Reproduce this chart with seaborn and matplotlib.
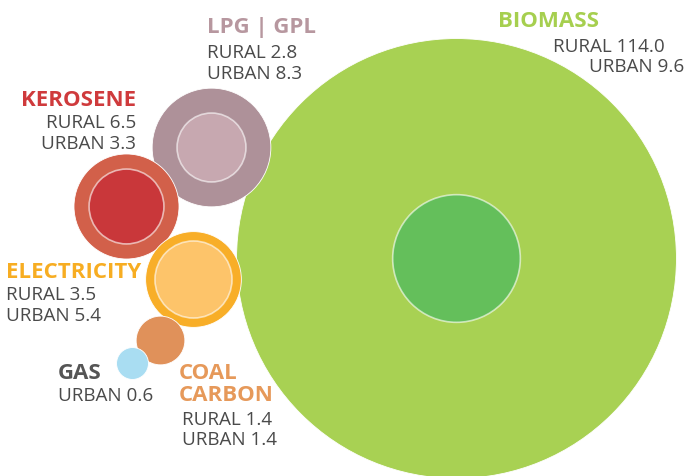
import numpy as np
import pandas as pd
import seaborn as sns
import matplotlib
matplotlib.use("Agg")
import matplotlib.pyplot as plt

# ---------------- data ----------------
fuels = ["BIOMASS", "LPG | GPL", "KEROSENE", "ELECTRICITY", "COAL\nCARBON", "GAS"]
rural = [114.0, 2.8, 6.5, 3.5, 1.4, np.nan]
urban = [9.6, 8.3, 3.3, 5.4, 1.4, 0.6]

# ---------------- styles / layout ----------------
title_colors = ["#a6cf4f", "#b7979f", "#cf3a3c", "#f7ad22", "#e6995a", "#555555"]
rural_colors = ["#a8d153", "#c7a8b0", "#d2604a", "#fdc46a", "#e0915a", "#a9ddf2"]
urban_colors = ["#64bf5b", "#ae9199", "#c9373a", "#f8ae28", "#e0915a", "#a9ddf2"]
centers = [(455.5, 257.5), (210.5, 146.5), (126, 206), (192.5, 279), (160, 340), (132, 362.5)]
# label anchor (x, ha) and baselines of lines
label_x = [None, 207, 136, 6, 179, 58]
label_ha = ["left", "left", "right", "left", "left", "left"]
title_base = [[27], [33], [106], [278], [379, 401], [379]]
line_base = [[52, 72], [58, 79], [128, 149], [300, 321], [425, 445], [401]]
biomass_title_x = 498
biomass_line_x = [553, 589]

K = 20.6  # px radius per sqrt(unit)
DPI = 100
TEXT = "#4a4a4a"

sns.set_theme(style="white")
plt.rcParams["font.family"] = ["Open Sans", "DejaVu Sans"]

fig = plt.figure(figsize=(6.88, 4.76), dpi=DPI)
ax = fig.add_axes([0, 0, 1, 1])
ax.set_xlim(0, 688)
ax.set_ylim(476, 0)
ax.axis("off")

rows = []
for i, f in enumerate(fuels):
    vals = []
    if not np.isnan(rural[i]):
        vals.append(("rural", rural[i], rural_colors[i]))
    vals.append(("urban", urban[i], urban_colors[i]))
    vals.sort(key=lambda t: -t[1])
    for j, (kind, v, c) in enumerate(vals):
        if j == 1 and np.isclose(v, vals[0][1]):
            continue
        rows.append(dict(fuel=f, kind=kind, value=v, color=c, layer=j,
                         x=centers[i][0], y=centers[i][1], order=i))
df = pd.DataFrame(rows)
df["r_px"] = K * np.sqrt(df["value"])
df["s"] = (2 * df["r_px"] * 72 / DPI) ** 2

# outer circles (biomass first so others sit on top), then inner circles
for layer in [0, 1]:
    sub = df[df.layer == layer].sort_values("order")
    for _, row in sub.iterrows():
        if layer == 0:
            sns.scatterplot(x=[row.x], y=[row.y], s=row.s, color=row.color,
                            edgecolor="white", linewidth=0.6, ax=ax, legend=False, zorder=2 + row.order * 0.01)
        else:
            sns.scatterplot(x=[row.x], y=[row.y], s=row.s, color=row.color,
                            edgecolor=(1, 1, 1, 0.6), linewidth=1.2, ax=ax, legend=False, zorder=3)

# ---------------- labels ----------------
TSIZE = 16
BSIZE = 13.6
for i, f in enumerate(fuels):
    lines = []
    if not np.isnan(rural[i]):
        lines.append(f"RURAL {rural[i]:.1f}")
    lines.append(f"URBAN {urban[i]:.1f}")
    titles = f.split("\n")
    if i == 0:
        ax.text(biomass_title_x, title_base[i][0], titles[0], color=title_colors[i],
                fontsize=TSIZE, fontweight="bold", ha="left", va="baseline")
        for k, ln in enumerate(lines):
            ax.text(biomass_line_x[k], line_base[i][k], ln, color=TEXT, fontsize=BSIZE,
                    ha="left", va="baseline")
        continue
    for k, t in enumerate(titles):
        ax.text(label_x[i], title_base[i][k], t, color=title_colors[i], fontsize=TSIZE,
                fontweight="bold", ha=label_ha[i], va="baseline")
    for k, ln in enumerate(lines):
        ax.text(label_x[i] + (3 if i == 4 else 0), line_base[i][k], ln, color=TEXT,
                fontsize=BSIZE, ha=label_ha[i], va="baseline")

fig.savefig("out.png", dpi=DPI)
